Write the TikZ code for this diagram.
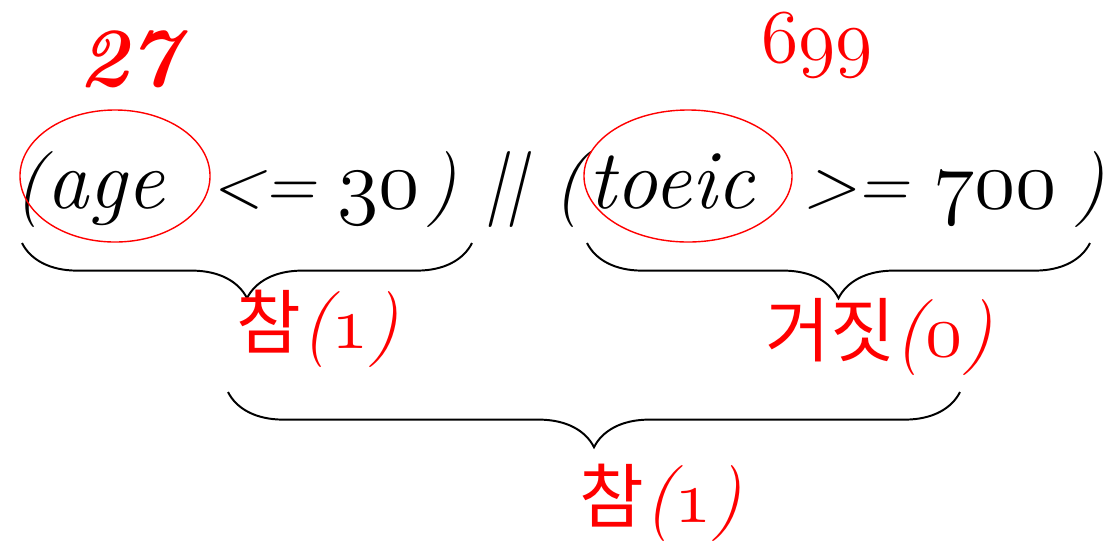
\documentclass[tikz,border=0pt]{standalone}
\usepackage{fontspec}
\newfontfamily\kor{Noto Sans CJK KR}
\usetikzlibrary{decorations.pathreplacing}
\font\osnf=cmmi12 at 60pt
\font\osnl=cmmi12 at 54pt
\newcommand{\osn}[1]{{\osnf #1}}
\newcommand{\osnsmall}[1]{{\osnl #1}}
\newcommand{\kt}[1]{{\kor\fontsize{50}{60}\selectfont #1}}
\begin{document}
\begin{tikzpicture}[x=0.025cm,y=-0.025cm,
  main/.style={font=\fontsize{60}{66}\selectfont\itshape, inner sep=0, anchor=base west},
  oper/.style={font=\fontsize{50}{56}\selectfont\itshape, inner sep=0, anchor=base west},
  par/.style={font=\fontsize{54}{60}\selectfont\itshape, inner sep=0, anchor=base west},
  lab/.style={font=\fontsize{54}{60}\selectfont\itshape, inner sep=0, anchor=base, text=red},
  hl/.style={red, line width=1pt},
  br/.style={decorate, decoration={brace, mirror, amplitude=1.38cm, aspect=0.5}, line width=1.4pt}]
\useasboundingbox (0,0) rectangle (1118,542);
% left expression
\node[par] (p1) at (14,208) {(};
\node[main] (w1) at (46,208) {age};
\node[oper] (op1) at (210,207) {<=};
\node[main] (n1) at (337,208) {\osn{30}};
\node[par] (p2) at (426,208) {)};
\node[par] (or) at (484,208) {||};
% right expression
\node[par] (p3) at (553,208) {(};
\node[main] (w2) at (588,208) {toeic};
\node[oper] (op2) at (803,207) {>=};
\node[main] (n2) at (933,208) {\osn{700}};
\node[par] (p4) at (1074,208) {)};
% values
\node[lab, font=\fontsize{60}{66}\selectfont\bfseries\itshape] (v1) at (128,86) {27};
\node[lab] (v2) at (817,62) {\osnsmall{699}};
\draw[hl] (115,176) ellipse [x radius=2.375cm, y radius=1.65cm];
\draw[hl] (688,176) ellipse [x radius=2.6cm, y radius=1.65cm];
% braces
\coordinate (b1a) at (22,243); \coordinate (b1b) at (472,243);
\coordinate (b2a) at (587,243); \coordinate (b2b) at (1090,243);
\coordinate (b3a) at (228,392); \coordinate (b3b) at (960,392);
\draw[br] (b1a) -- (b1b);
\draw[br] (b2a) -- (b2b);
\draw[br] (b3a) -- (b3b);
% results
\node[lab] (r1) at (318,348) {\kt{참}(\osnsmall{1})};
\node[lab] (r2) at (879,356) {\kt{거짓}(\osnsmall{0})};
\node[lab] (r3) at (661,522) {\kt{참}(\osnsmall{1})};
\end{tikzpicture}
\end{document}
